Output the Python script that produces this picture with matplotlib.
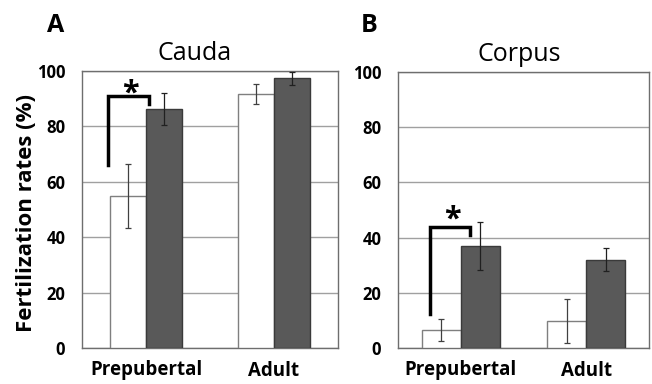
import matplotlib
matplotlib.use("Agg")
import matplotlib.pyplot as plt
import numpy as np

plt.rcParams['font.family'] = ['Open Sans', 'DejaVu Sans']

groups = ["Prepubertal", "Adult"]
yticks = [0, 20, 40, 60, 80, 100]

cauda_white = [55.0, 91.7]
cauda_white_err = [11.5, 3.7]
cauda_dark = [86.2, 97.3]
cauda_dark_err = [5.8, 2.5]

corpus_white = [6.4, 9.9]
corpus_white_err = [4.0, 8.0]
corpus_dark = [37.0, 32.0]
corpus_dark_err = [8.6, 4.2]

fig = plt.figure(figsize=(6.52, 3.84), dpi=100)

W, H = 652, 384
def ax_rect(x0, x1, y0, y1):
    return [x0 / W, 1 - y1 / H, (x1 - x0) / W, (y1 - y0) / H]

axA = fig.add_axes(ax_rect(82, 338, 71, 348))
axB = fig.add_axes(ax_rect(398, 649, 72, 348))

dark = "#595959"

def draw(ax, white, werr, darkv, derr, title, bw, tx):
    x = np.arange(len(groups))
    ax.bar(x - bw / 2, white, bw, color="white", edgecolor="#7f7f7f", linewidth=1.0, zorder=3)
    ax.bar(x + bw / 2, darkv, bw, color=dark, edgecolor="#3a3a3a", linewidth=1.0, zorder=3)
    ax.errorbar(x - bw / 2, white, yerr=werr, fmt="none", ecolor="#404040", elinewidth=0.9,
                capsize=2.4, capthick=0.9, zorder=4)
    ax.errorbar(x + bw / 2, darkv, yerr=derr, fmt="none", ecolor="#202020", elinewidth=0.9,
                capsize=2.4, capthick=0.9, zorder=4)
    ax.set_xlim(-0.5, 1.5)
    ax.set_ylim(0, 100)
    ax.set_yticks(yticks)
    ax.set_yticklabels([str(v) for v in yticks], fontsize=12, fontweight="bold")
    ax.set_xticks(x)
    ax.set_xticklabels(groups, fontsize=13.5, fontweight="bold")
    ax.tick_params(axis="x", length=0, pad=9)
    ax.tick_params(axis="y", length=0, pad=12)
    ax.yaxis.grid(True, color="#a0a0a0", linewidth=1.0, zorder=0)
    ax.set_axisbelow(True)
    for s in ax.spines.values():
        s.set_color("#6e6e6e")
        s.set_linewidth(1.0)
    ax.text(tx, 1 + 11 / 277, title, transform=ax.transAxes, ha="center", va="baseline",
            fontsize=18)

draw(axA, cauda_white, cauda_white_err, cauda_dark, cauda_dark_err, "Cauda", 0.284, 0.44)
draw(axB, corpus_white, corpus_white_err, corpus_dark, corpus_dark_err, "Corpus", 0.31, 0.484)

fig.text(27 / W, 1 - 213 / H, "Fertilization rates (%)", rotation=90, fontsize=16,
         fontweight="bold", ha="center", va="center")

# significance brackets
axA.plot([-0.298, -0.298, 0.025, 0.025], [66, 91, 91, 88], color="black", lw=2.5,
         solid_joinstyle="miter", zorder=5)
axA.text(-0.125, 88.8, "*", ha="center", va="baseline", fontsize=22, fontweight="bold")
axB.plot([-0.243, -0.243, 0.075, 0.075], [12.2, 43.7, 43.7, 41], color="black", lw=2.5,
         solid_joinstyle="miter", zorder=5)
axB.text(-0.07, 43.6, "*", ha="center", va="baseline", fontsize=22, fontweight="bold")

fig.text(56 / W, 1 - 26 / H, "A", fontsize=18, fontweight="bold", va="center", ha="center")
fig.text(369 / W, 1 - 26 / H, "B", fontsize=18, fontweight="bold", va="center", ha="center")

fig.savefig("out.png", dpi=100)
